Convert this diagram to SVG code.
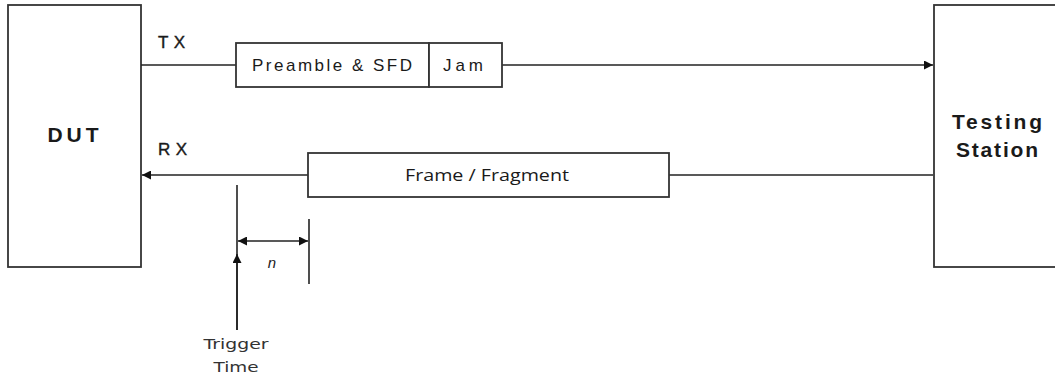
<svg xmlns="http://www.w3.org/2000/svg" width="1055" height="377" viewBox="0 0 1055 377">
<style>
.box{fill:#fff;stroke:#333;stroke-width:1.8}
.ln{fill:none;stroke:#222;stroke-width:1.6}
.t{font-family:"Liberation Sans",Arial,sans-serif;fill:#1a1a1a}
.b{font-weight:bold}
</style>
<defs>
<marker id="ah" viewBox="0 0 10 10" refX="10" refY="5" markerWidth="11" markerHeight="9" markerUnits="userSpaceOnUse" orient="auto-start-reverse">
<path d="M0,0 L10,5 L0,10 z" fill="#111"/>
</marker>
</defs>
<rect width="1055" height="377" fill="#fff"/>
<g id="dut">
<rect class="box" x="8" y="5" width="133" height="262"/>
<text class="t b" x="73" y="142" font-size="21" text-anchor="middle" textLength="51" lengthAdjust="spacing">DUT</text>
</g>
<g id="testing-station">
<rect class="box" x="934" y="5" width="130" height="262"/>
<text class="t b" font-size="21" text-anchor="middle"><tspan x="997" y="129" textLength="90" lengthAdjust="spacing">Testing</tspan><tspan x="997" y="157" textLength="82" lengthAdjust="spacing">Station</tspan></text>
</g>
<g id="labels">
<text class="t" x="158" y="48" font-size="17" stroke="#1a1a1a" stroke-width="0.4" textLength="27" lengthAdjust="spacing">TX</text>
<text class="t" x="158" y="155" font-size="17" stroke="#1a1a1a" stroke-width="0.4" textLength="29" lengthAdjust="spacing">RX</text>
</g>
<g id="connectors">
<line class="ln" x1="141" y1="65" x2="236" y2="65"/>
<line class="ln" x1="502" y1="65" x2="933" y2="65" marker-end="url(#ah)"/>
<line class="ln" x1="933" y1="175" x2="669" y2="175"/>
<line class="ln" x1="308" y1="175" x2="142" y2="175" marker-end="url(#ah)"/>
<line class="ln" x1="237" y1="185" x2="237" y2="330"/>
<line class="ln" x1="237" y1="330" x2="237" y2="254" marker-end="url(#ah)"/>
<line class="ln" x1="309" y1="219" x2="309" y2="284"/>
<line class="ln" x1="238" y1="241" x2="308" y2="241" marker-start="url(#ah)" marker-end="url(#ah)"/>
</g>
<g id="preamble">
<rect class="box" x="236" y="43" width="193" height="44"/>
<text class="t" x="332" y="71" font-size="17" text-anchor="middle" textLength="160" lengthAdjust="spacing">Preamble &amp; SFD</text>
</g>
<g id="jam">
<rect class="box" x="429" y="43" width="73" height="44"/>
<text class="t" x="463" y="71" font-size="17" text-anchor="middle" textLength="40" lengthAdjust="spacing">Jam</text>
</g>
<g id="frame">
<rect class="box" x="308" y="153" width="361" height="44"/>
<text x="487" y="181" font-family="'Open Sans',Lato,sans-serif" font-size="16" fill="#1a1a1a" text-anchor="middle" textLength="164" lengthAdjust="spacingAndGlyphs">Frame / Fragment</text>
</g>
<g id="n-label">
<text class="t" x="272" y="268" font-size="15" font-style="italic" text-anchor="middle">n</text>
</g>
<g id="trigger-label">
<text font-family="'DejaVu Sans',Verdana,sans-serif" font-size="14" fill="#333" text-anchor="middle"><tspan x="236" y="349" textLength="65" lengthAdjust="spacingAndGlyphs">Trigger</tspan><tspan x="236" y="372" textLength="45" lengthAdjust="spacingAndGlyphs">Time</tspan></text>
</g>
</svg>
